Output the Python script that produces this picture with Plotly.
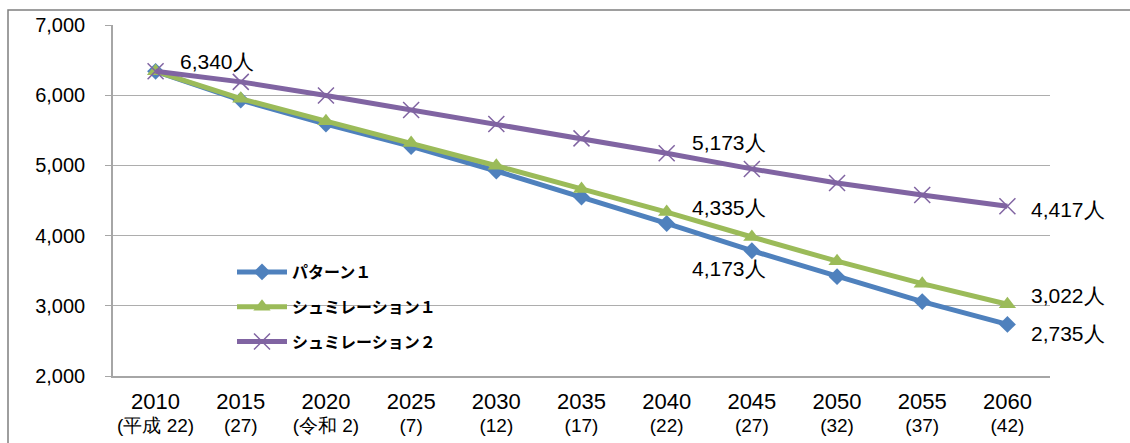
import plotly.graph_objects as go

years = ["2010", "2015", "2020", "2025", "2030", "2035", "2040", "2045", "2050", "2055", "2060"]
era_labels = ["(平成 22)", "(27)", "(令和 2)", "(7)", "(12)", "(17)", "(22)", "(27)", "(32)", "(37)", "(42)"]

pattern1 = [6340, 5930, 5590, 5270, 4920, 4550, 4173, 3785, 3415, 3060, 2735]
simulation1 = [6340, 5950, 5630, 5320, 4995, 4665, 4335, 3980, 3635, 3315, 3022]
simulation2 = [6340, 6190, 5995, 5790, 5590, 5385, 5173, 4950, 4750, 4578, 4417]

series_names = ["パターン１", "シュミレーション１", "シュミレーション２"]
y_ticks = [2000, 3000, 4000, 5000, 6000, 7000]

# value labels: (year, value, text)
value_labels = [
    ("2010", 6340, "6,340人"),
    ("2040", 5173, "5,173人"),
    ("2040", 4335, "4,335人"),
    ("2040", 4173, "4,173人"),
    ("2060", 4417, "4,417人"),
    ("2060", 3022, "3,022人"),
    ("2060", 2735, "2,735人"),
]
label_shifts = [(22, 10), (23, 11), (23, 5), (23, -45), (22, -3), (22, 9), (22, -9)]

W, H = 1130, 443
ML, MR, MT, MB = 113, 80, 25, 67
PW, PH = W - ML - MR, H - MT - MB

def px_x(p):
    return (p - ML) / PW

def px_y(p):
    return (H - MB - p) / PH

fig = go.Figure()

fig.add_trace(go.Scatter(
    x=years, y=pattern1, name=series_names[0], mode="lines+markers",
    line=dict(color="#4F81BD", width=5),
    marker=dict(symbol="diamond", size=13, color="#4F81BD"),
    legendgroup="a",
))
fig.add_trace(go.Scatter(
    x=years, y=simulation1, name=series_names[1], mode="lines+markers",
    line=dict(color="#9BBB59", width=5),
    marker=dict(symbol="triangle-up", size=15, color="#9BBB59"),
    legendgroup="b",
))
fig.add_trace(go.Scatter(
    x=years, y=simulation2, name=series_names[2], mode="lines+markers",
    line=dict(color="#8064A2", width=5),
    marker=dict(symbol="x-thin", size=16, color="#8064A2",
                line=dict(color="#8064A2", width=1.5)),
    legendgroup="c",
))

ticktext = [f"<span style='font-size:22px'>{y}</span><br><span style='font-size:19px'>{e}</span>"
            for y, e in zip(years, era_labels)]

annotations = []
for (xv, yv, t), (dx, dy) in zip(value_labels, label_shifts):
    annotations.append(dict(
        x=years.index(xv), y=yv, xref="x", yref="y", text=t, showarrow=False,
        xanchor="left", yanchor="middle", xshift=dx, yshift=dy,
        font=dict(family="Arial", size=21, color="#000000"),
    ))

fig.update_layout(
    width=W, height=H,
    margin=dict(l=ML, r=MR, t=MT, b=MB, autoexpand=False),
    paper_bgcolor="white", plot_bgcolor="white",
    showlegend=True,
    annotations=annotations,
    legend=dict(
        x=px_x(232), y=px_y(255), xanchor="left", yanchor="top",
        bgcolor="rgba(0,0,0,0)",
        font=dict(family="Noto Sans CJK JP", size=16, color="#000000", weight=600),
        tracegroupgap=11,
        itemwidth=50,
    ),
    xaxis=dict(
        type="category", range=[-0.5, 10.5],
        tickvals=years, ticktext=ticktext,
        showgrid=False, showline=True, linecolor="#A6A6A6", linewidth=1.5,
        ticks="", ticklabelstandoff=10,
        tickfont=dict(family="Arial", size=17.5, color="#000000"),
    ),
    yaxis=dict(
        range=[2000, 7000], tickvals=y_ticks, tickformat=",",
        showgrid=True, gridcolor="#ADADAD", gridwidth=1.3,
        showline=True, linecolor="#A6A6A6", linewidth=1.5,
        ticks="outside", ticklen=6, tickcolor="#A6A6A6", tickwidth=1.3,
        ticklabelstandoff=16,
        tickfont=dict(family="Arial", size=20, color="#000000"),
        zeroline=False,
    ),
    shapes=[
        dict(type="rect", xref="paper", yref="paper",
             x0=px_x(170), x1=px_x(500), y0=px_y(355), y1=px_y(250),
             fillcolor="white", line=dict(width=0), layer="between"),
        dict(type="rect", xref="paper", yref="paper",
             x0=px_x(8), x1=px_x(1140), y0=px_y(455), y1=px_y(10),
             fillcolor="rgba(0,0,0,0)", line=dict(color="#7F7F7F", width=1.5), layer="above"),
    ],
)

fig.write_html("out.html")
